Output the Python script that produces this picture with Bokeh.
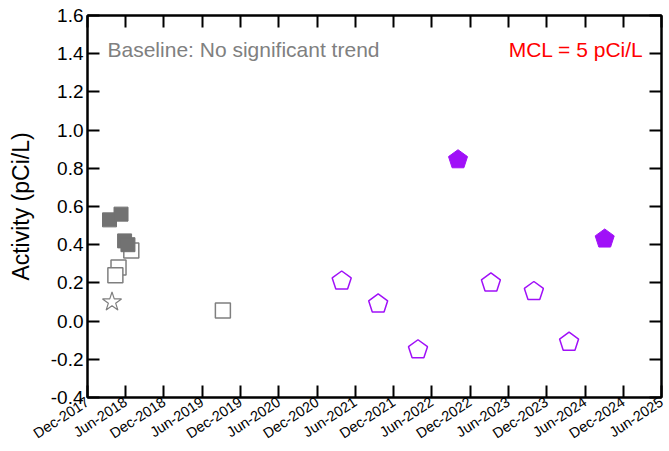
import pandas as pd
from math import pi
from bokeh.plotting import figure
from bokeh.models import (Range1d, FixedTicker, DatetimeTickFormatter, PrintfTickFormatter,
                          DatetimeAxis, LinearAxis, Label, ColumnDataSource, CustomJSTickFormatter)
from bokeh.embed import file_html
from bokeh.resources import INLINE

# ---------------- data ----------------
base_filled_dates = ["2018-03-16", "2018-05-10", "2018-05-27", "2018-06-12"]
base_filled_vals = [0.53, 0.56, 0.42, 0.40]
base_open_dates = ["2018-06-28", "2018-04-28", "2018-04-13", "2019-09-08"]
base_open_vals = [0.37, 0.28, 0.24, 0.055]
base_star_dates = ["2018-03-28"]
base_star_vals = [0.10]
recent_open_dates = ["2021-03-28", "2021-09-18", "2022-03-27", "2023-03-10", "2023-10-01", "2024-03-17"]
recent_open_vals = [0.21, 0.09, -0.15, 0.20, 0.155, -0.11]
recent_filled_dates = ["2022-10-04", "2024-09-03"]
recent_filled_vals = [0.845, 0.43]
y_ticks = [-0.4, -0.2, 0.0, 0.2, 0.4, 0.6, 0.8, 1.0, 1.2, 1.4, 1.6]
x_tick_dates = pd.date_range("2017-12-01", "2025-06-01", freq="6MS")
baseline_note = "Baseline: No significant trend"
mcl_note = "MCL = 5 pCi/L"
y_title = "Activity (pCi/L)"

FONT = "Liberation Sans"
GRAY_FILL = "#727272"
GRAY_LINE = "#7f7f7f"
PURPLE = "#a010f8"

def src(d, v):
    return ColumnDataSource(dict(x=pd.to_datetime(d), y=v))

x_ticks_ms = [t.timestamp() * 1000 for t in x_tick_dates]

p = figure(width=669, height=451, x_axis_type="datetime",
           x_range=Range1d(pd.Timestamp("2017-12-01"), pd.Timestamp("2025-06-01")),
           y_range=Range1d(-0.4, 1.6),
           output_backend="svg", toolbar_location=None,
           min_border_left=87, min_border_right=8, min_border_top=15, min_border_bottom=53)
p.xgrid.visible = False
p.ygrid.visible = False
p.outline_line_color = "black"
p.outline_line_width = 2

xt = FixedTicker(ticks=x_ticks_ms)
yt = FixedTicker(ticks=y_ticks)
fmt = "%b-%Y"
xfmt = DatetimeTickFormatter(milliseconds=fmt, seconds=fmt, minsec=fmt, minutes=fmt, hourmin=fmt,
                             hours=fmt, days=fmt, months=fmt, years=fmt)
blank = CustomJSTickFormatter(code="return ''")

def style_axis(ax, labels=True):
    ax.axis_line_color = "black"
    ax.axis_line_width = 2
    ax.major_tick_line_color = "black"
    ax.major_tick_line_width = 2
    ax.major_tick_in = 12
    ax.major_tick_out = 0
    ax.minor_tick_line_color = None
    if not labels:
        ax.formatter = blank
        ax.major_label_standoff = 0

xa = p.xaxis[0]
xa.ticker = xt
xa.formatter = xfmt
style_axis(xa)
xa.major_label_orientation = 33 * pi / 180
xa.major_label_text_font = FONT
xa.major_label_text_font_size = "14.5px"
xa.major_label_text_color = "black"
xa.major_label_standoff = 3

ya = p.yaxis[0]
ya.ticker = yt
ya.formatter = PrintfTickFormatter(format="%.1f")
style_axis(ya)
ya.major_label_text_font = FONT
ya.major_label_text_font_size = "19px"
ya.major_label_text_color = "black"
ya.major_label_standoff = 4
ya.axis_label = y_title
ya.axis_label_text_font = FONT
ya.axis_label_text_font_size = "23px"
ya.axis_label_text_font_style = "normal"
ya.axis_label_text_color = "black"
ya.axis_label_standoff = 14

top = DatetimeAxis(ticker=xt)
style_axis(top, labels=False)
p.add_layout(top, "above")
right = LinearAxis(ticker=yt)
style_axis(right, labels=False)
p.add_layout(right, "right")

# baseline markers
p.scatter("x", "y", source=src(base_open_dates, base_open_vals), marker="square", size=15,
          fill_color="white", line_color=GRAY_LINE, line_width=1.5)
p.scatter("x", "y", source=src(base_filled_dates, base_filled_vals), marker="square", size=14,
          fill_color=GRAY_FILL, line_color=GRAY_FILL, line_width=1)
p.scatter("x", "y", source=src(base_star_dates, base_star_vals), marker="star", size=20,
          fill_color="white", line_color=GRAY_LINE, line_width=1.2)

# recent markers (pentagons)
p.ngon("x", "y", source=src(recent_open_dates, recent_open_vals), radius=10, radius_units="screen",
       n=5, angle=0, fill_color="white", line_color=PURPLE, line_width=1.5)
p.ngon("x", "y", source=src(recent_filled_dates, recent_filled_vals), radius=10, radius_units="screen",
       n=5, angle=0, fill_color=PURPLE, line_color=PURPLE, line_width=1)

p.add_layout(Label(x=20, y=348, x_units="screen", y_units="screen", text=baseline_note,
                   text_font=FONT, text_font_size="21px", text_color="#808080",
                   text_baseline="middle", text_align="left"))
p.add_layout(Label(x=556, y=348, x_units="screen", y_units="screen", text=mcl_note,
                   text_font=FONT, text_font_size="21px", text_color="#ff0000",
                   text_baseline="middle", text_align="right"))

open("out.html", "w").write(file_html(p, INLINE))
